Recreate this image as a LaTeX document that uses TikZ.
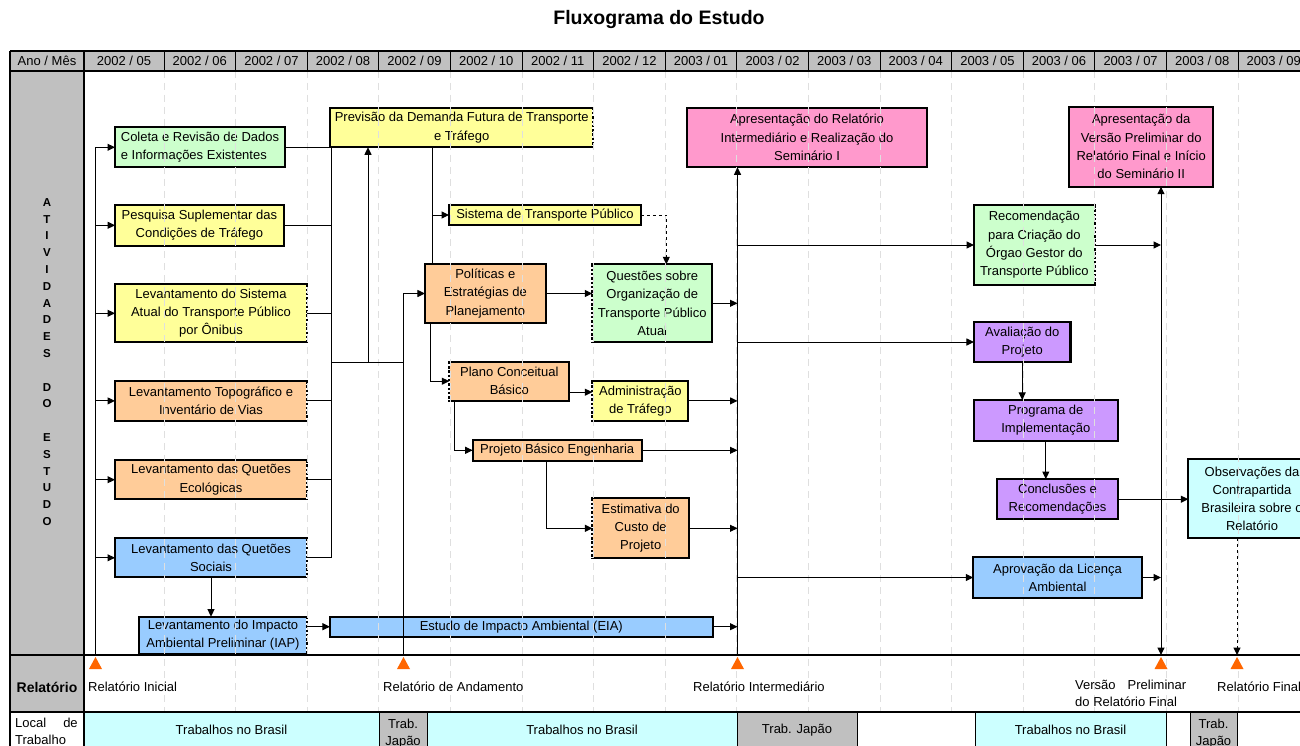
\documentclass[tikz,border=0pt]{standalone}
\usepackage{fontspec}
\setmainfont{Liberation Sans}
\usetikzlibrary{arrows.meta}
\definecolor{cverde}{HTML}{CCFFCC}
\definecolor{camarelo}{HTML}{FFFF99}
\definecolor{claranja}{HTML}{FFCC99}
\definecolor{cazul}{HTML}{99CCFF}
\definecolor{crosa}{HTML}{FF99CC}
\definecolor{croxo}{HTML}{CC99FF}
\definecolor{cciano}{HTML}{CCFFFF}
\definecolor{ccinza}{HTML}{C0C0C0}
\definecolor{cmarca}{HTML}{FF6600}
\tikzset{
  >={Triangle[length=7.5pt,width=7pt]},
  box/.style={draw, line width=2.2pt, outer sep=0pt, align=center, inner sep=1pt,
    font=\fontsize{13}{18.3}\selectfont},
  lbl/.style={font=\fontsize{13}{17}\selectfont, inner sep=0pt},
  fio/.style={line width=1pt},
  borda/.style={line width=1.8pt},
  grade/.style={gray!25, line width=0.8pt, dash pattern=on 7pt off 5pt},
  pontil/.style={draw=white, line width=2.2pt, postaction={draw=black, dash pattern=on 2.5pt off 1.8pt}},
}

\begin{document}
\begin{tikzpicture}[x=1pt, y=-1pt]
  \path[use as bounding box] (0,0) rectangle (1300,746);
  \clip (0,0) rectangle (1300,746);

  \node[font=\bfseries\fontsize{19.5}{22}\selectfont] (titulo) at (659,20) {Fluxograma do Estudo};

  \fill[ccinza] (10,51) rectangle (1310,71);
  \fill[ccinza] (10,71) rectangle (84,712);
  \node[lbl] (hano) at (47,61) {Ano / Mês};
  \foreach \m [count=\k from 0] in {2002 / 05, 2002 / 06, 2002 / 07, 2002 / 08, 2002 / 09, 2002 / 10,
      2002 / 11, 2002 / 12, 2003 / 01, 2003 / 02, 2003 / 03, 2003 / 04, 2003 / 05, 2003 / 06,
      2003 / 07, 2003 / 08, 2003 / 09} {
    \pgfmathsetmacro{\xc}{\k==0 ? 124 : 128.2+\k*71.6}
    \node[lbl] (mes\k) at (\xc,61) {\m};
  }
  \foreach \k in {0,...,16}
    \draw[fio] (164+\k*71.6,51) -- (164+\k*71.6,71);

  \node[font=\bfseries\fontsize{11.5}{16.8}\selectfont, align=center] (ativ) at (47,362)
    {A\\T\\I\\V\\I\\D\\A\\D\\E\\S\\[16.8pt]D\\O\\[16.8pt]E\\S\\T\\U\\D\\O};

  \node[box, fill=cverde, align=left, minimum width=170, minimum height=40] (coleta) at (200,147.3)
    {Coleta e Revisão de Dados\\e Informações Existentes};
  \node[box, fill=camarelo, minimum width=168.7, minimum height=40.7] (pesquisa) at (199.4,225.3)
    {Pesquisa Suplementar das\\Condições de Tráfego};
  \node[box, fill=camarelo, minimum width=192, minimum height=58] (sistema) at (211,313.3)
    {Levantamento do Sistema\\Atual do Transporte Público\\por Ônibus};
  \node[box, fill=claranja, minimum width=192, minimum height=39.7] (topo) at (211,400.9)
    {Levantamento Topográfico e\\Inventário de Vias};
  \node[box, fill=claranja, minimum width=192, minimum height=39.3] (eco) at (211,479.7)
    {Levantamento das Quetões\\Ecológicas};
  \node[box, fill=cazul, minimum width=192, minimum height=39] (social) at (211,557.8)
    {Levantamento das Quetões\\Sociais};
  \node[box, fill=cazul, minimum width=167.4, minimum height=37.3] (iap) at (223,635.3)
    {Levantamento do Impacto\\Ambiental Preliminar (IAP)};
  \node[box, fill=camarelo, minimum width=263.3, minimum height=39.6] (previsao) at (461.7,127.5)
    {Previsão da Demanda Futura de Transporte\\e Tráfego};
  \node[box, fill=camarelo, minimum width=191.7, minimum height=20] (sistpub) at (544.9,215)
    {Sistema de Transporte Público};
  \node[box, fill=claranja, minimum width=120.7, minimum height=58.4] (politicas) at (485.3,293.5)
    {Políticas e\\Estratégias de\\Planejamento};
  \node[box, fill=cverde, minimum width=120, minimum height=78] (questoes) at (652.3,303.3)
    {Questões sobre\\Organização de\\Transporte Público\\Atual};
  \node[box, fill=claranja, minimum width=120, minimum height=39] (plano) at (509.3,381.2)
    {Plano Conceitual\\Básico};
  \node[box, fill=camarelo, minimum width=96, minimum height=39.7] (admin) at (640.3,400.9)
    {Administração\\de Tráfego};
  \node[box, fill=claranja, minimum width=169, minimum height=20.7] (projeto) at (557.2,450.3)
    {Projeto Básico Engenharia};
  \node[box, fill=claranja, minimum width=96.7, minimum height=60] (estimativa) at (640.7,528.3)
    {Estimativa do\\Custo de\\Projeto};
  \node[box, fill=cazul, minimum width=382.7, minimum height=20] (eia) at (521.3,626.7)
    {Estudo de Impacto Ambiental (EIA)};
  \node[box, fill=crosa, minimum width=239.4, minimum height=59.6] (apres1) at (807,137.5)
    {Apresentação do Relatório\\Intermediário e Realização do\\Seminário I};
  \node[box, fill=crosa, minimum width=144.3, minimum height=80] (apres2) at (1141.2,146.7)
    {Apresentação da\\Versão Preliminar do\\Relatório Final e Início\\do Seminário II};
  \node[box, fill=cverde, minimum width=120.6, minimum height=80] (recom) at (1034.3,245)
    {Recomendação\\para Criação do\\Órgao Gestor do\\Transporte Público};
  \node[box, fill=croxo, minimum width=96.5, minimum height=40.6] (avalia) at (1022.2,342)
    {Avaliação do\\Projeto};
  \node[box, fill=croxo, minimum width=143.6, minimum height=40.7] (programa) at (1045.8,420.3)
    {Programa de\\Implementação};
  \node[box, fill=croxo, minimum width=121.6, minimum height=40.3] (conclus) at (1057.5,499.2)
    {Conclusões e\\Recomendações};
  \node[box, fill=cazul, minimum width=168.4, minimum height=40.4] (aprova) at (1057.5,577.5)
    {Aprovação da Licença\\Ambiental};
  \node[box, fill=cciano, minimum width=127.4, minimum height=79] (observ) at (1252,498.8)
    {Observações da\\Contrapartida\\Brasileira sobre o\\Relatório};

  \foreach \n in {previsao,sistema,topo,eco,social,iap,recom}
    \draw[pontil] (\n.north east) -- (\n.south east);
  \foreach \n in {questoes,plano,admin,estimativa}
    \draw[pontil] (\n.north west) -- (\n.south west);

  \foreach \k in {0,...,15}
    \draw[grade] (164+\k*71.6,71) -- (164+\k*71.6,712);

  \coordinate (rIni) at (95.5,655);
  \coordinate (rAnd) at (403.5,655);
  \coordinate (rInt) at (737.5,655);
  \coordinate (rPre) at (1161,655);
  \coordinate (rFin) at (1237,655);
  \coordinate (busR) at (331,362);
  \coordinate (prevPe) at (368,362);

  \draw[fio] (rIni) -- (rIni |- coleta.west);
  \foreach \n in {coleta,pesquisa,sistema,topo,eco,social}
    \draw[fio,->] (rIni |- \n.west) -- (\n.west);
  \foreach \n in {coleta,pesquisa,sistema,topo,eco,social}
    \draw[fio] (\n.east) -- (busR |- \n.east);
  \draw[fio] (busR |- coleta.east) -- (busR |- social.east);
  \draw[fio] (busR) -- (rAnd |- busR);
  \draw[fio,->] (prevPe) -- (prevPe |- previsao.south);
  \draw[fio,->] (rAnd) |- (politicas.west);
  \draw[fio] ([xshift=8pt]politicas.north west) -- ([xshift=8pt]politicas.north west |- previsao.south);
  \draw[fio,->] ([xshift=8pt]politicas.north west |- sistpub.west) -- (sistpub.west);
  \draw[fio,dashed,->] (sistpub.east) -| ([xshift=14pt]questoes.north);
  \draw[fio,->] (politicas.east) -- (politicas.east -| questoes.west);
  \draw[fio,->] (questoes.east) -- (questoes.east -| rInt);
  \draw[fio,->] ([xshift=6pt]politicas.south west) |- (plano.west);
  \draw[fio,->] ([yshift=-11pt]plano.east) -- ([yshift=-11pt]plano.east -| admin.west);
  \draw[fio,->] (admin.east) -- (admin.east -| rInt);
  \draw[fio,->] ([xshift=5pt]plano.south west) |- (projeto.west);
  \draw[fio,->] (projeto.east) -- (projeto.east -| rInt);
  \draw[fio,->] ([xshift=-11pt]projeto.south) |- (estimativa.west);
  \draw[fio,->] (estimativa.east) -- (estimativa.east -| rInt);
  \draw[fio,->] (social.south) -- (social.south |- iap.north);
  \draw[fio,->] (iap.east |- eia.west) -- (eia.west);
  \draw[fio,->] (eia.east) -- (eia.east -| rInt);
  \draw[fio,->] (rInt) -- (rInt |- apres1.south);
  \foreach \n in {recom,avalia,aprova}
    \draw[fio,->] (rInt |- \n.west) -- (\n.west);
  \draw[fio,->] (avalia.south) -- (avalia.south |- programa.north);
  \draw[fio,->] (programa.south) -- (programa.south |- conclus.north);
  \draw[fio,->] (conclus.east) -- (conclus.east -| observ.west);
  \draw[fio,->] (recom.east) -- (recom.east -| rPre);
  \draw[fio,->] (aprova.east) -- (aprova.east -| rPre);
  \draw[fio,<->] (rPre |- apres2.south) -- (rPre);
  \draw[fio,dashed,->] (observ.south -| rFin) -- (rFin);

  \foreach \xa/\xb/\cor in {84/379/cciano, 379/427/ccinza, 427/737/cciano, 737/857/ccinza,
      975/1166/cciano, 1190/1237/ccinza}
    \filldraw[fio, fill=\cor] (\xa,712) rectangle (\xb,760);
  \foreach \x/\y/\txt [count=\i] in {231.5/730/Trabalhos no Brasil, 403/734/{Trab.\\Japão},
      582/730/Trabalhos no Brasil, 797/730/Trab. Japão, 1070.5/730/Trabalhos no Brasil,
      1213.5/734/{Trab.\\Japão}}
    \node[lbl, align=center] (loc\i) at (\x,\y) {\txt};
  \node[lbl, anchor=north west, align=left] (tloc) at (15,718) {Local\hspace{17pt}de\\Trabalho};

  \node[font=\bfseries\fontsize{14}{16}\selectfont] (trel) at (47,687) {Relatório};
  \node[lbl, anchor=west] (tIni) at (88,687) {Relatório Inicial};
  \node[lbl, anchor=west] (tAnd) at (383,687) {Relatório de Andamento};
  \node[lbl, anchor=west] (tInt) at (693,687) {Relatório Intermediário};
  \node[lbl, anchor=north west, align=left] (tPre) at (1075,680) {Versão\hspace{12pt}Preliminar\\do Relatório Final};
  \node[lbl, anchor=west] (tFin) at (1217,687) {Relatório Final};

  \foreach \c in {rIni,rAnd,rInt,rPre,rFin}
    \fill[cmarca] (\c) ++(0,2) -- ++(6.5,12) -- ++(-13,0) -- cycle;

  \draw[borda] (10,51) -- (1310,51);
  \draw[borda] (10,71) -- (1310,71);
  \draw[borda] (10,655) -- (1310,655);
  \draw[borda] (10,712) -- (1310,712);
  \draw[borda] (10,51) -- (10,760);
  \draw[borda] (84,51) -- (84,760);
\end{tikzpicture}
\end{document}
